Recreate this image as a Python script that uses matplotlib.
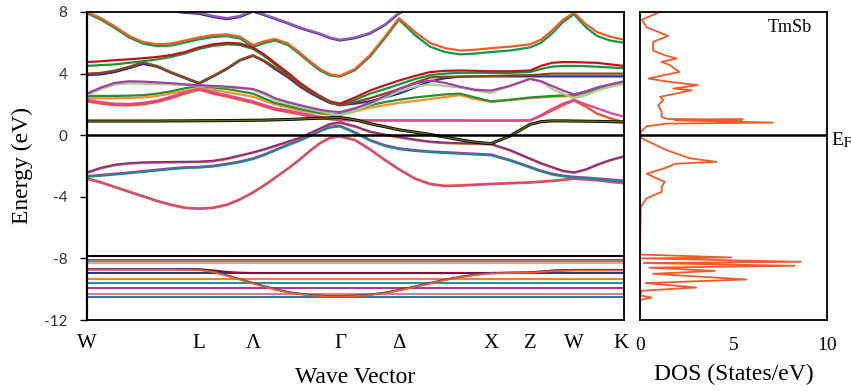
import numpy as np
import matplotlib
matplotlib.use('Agg')
import matplotlib.pyplot as plt

# k-path nodes (distance along W-L-Λ-Γ-Δ-X-Z-W-K)
k_path = [0, 14, 28, 42, 56, 70, 84, 98, 112, 126, 140, 153, 166, 177, 188, 201, 213, 223, 233, 243, 253,
          268, 283, 298, 312, 328, 343, 358, 373, 388, 404, 423, 443, 454, 465, 476, 487, 499, 510, 523, 537]
sym_pos = [0, 112, 166, 253, 312, 404, 443, 487, 534]
sym_labels = ['W', 'L', 'Λ', 'Γ', 'Δ', 'X', 'Z', 'W', 'K']

# conduction bands
top_purple = [8.6, 8.55, 8.5, 8.42, 8.35, 8.25, 8.1, 8.0, 7.95, 7.75, 7.6, 7.75, 8.1, 7.85, 7.6, 7.3, 7.0, 6.8,
              6.6, 6.35, 6.2, 6.35, 6.65, 7.2, 7.95, 8.5, 8.8, 9, 9, 9, 9, 9, 9, 9, 9, 9, 9, 9, 9, 9, 9]
top_blue = [8.55, 8.5, 8.45, 8.37, 8.3, 8.2, 8.05, 7.95, 7.88, 7.68, 7.53, 7.68, 8.03, 7.8, 7.55, 7.25, 6.95,
            6.75, 6.55, 6.3, 6.15, 6.3, 6.6, 7.15, 7.9, 8.45, 8.8, 9, 9, 9, 9, 9, 9, 9, 9, 9, 9, 9, 9, 9, 9]
b1_orange = [8.0, 7.6, 7.05, 6.45, 6.05, 5.9, 5.95, 6.15, 6.35, 6.5, 6.55, 6.4, 5.85, 6.1, 6.25, 5.95, 5.35,
             4.8, 4.3, 3.95, 3.85, 4.3, 5.2, 6.4, 7.6, 6.7, 6.0, 5.65, 5.5, 5.55, 5.65, 5.75, 5.9, 6.2, 6.8,
             7.5, 7.95, 7.2, 6.7, 6.4, 6.2]
b1_green = [7.92, 7.5, 6.95, 6.35, 5.95, 5.78, 5.82, 6.02, 6.22, 6.38, 6.43, 6.28, 5.72, 5.98, 6.15, 5.85,
            5.25, 4.7, 4.2, 3.88, 3.8, 4.22, 5.1, 6.3, 7.5, 6.5, 5.75, 5.4, 5.25, 5.3, 5.4, 5.5, 5.7, 6.0,
            6.6, 7.35, 7.85, 7.0, 6.45, 6.15, 6.0]
b2_red = [4.75, 4.8, 4.87, 4.93, 5.0, 5.08, 5.2, 5.4, 5.7, 5.9, 6.0, 5.95, 5.7, 5.25, 4.7, 4.05, 3.4, 2.95,
          2.55, 2.2, 2.05, 2.45, 2.9, 3.25, 3.55, 3.85, 4.1, 4.18, 4.2, 4.18, 4.15, 4.15, 4.2, 4.5, 4.7,
          4.75, 4.75, 4.72, 4.7, 4.6, 4.5]
b2_green = [4.5, 4.55, 4.6, 4.7, 4.8, 4.92, 5.08, 5.3, 5.6, 5.8, 5.9, 5.85, 5.6, 5.15, 4.6, 3.95, 3.3, 2.85,
            2.45, 2.1, 1.95, 2.3, 2.7, 3.0, 3.3, 3.65, 3.9, 4.0, 4.05, 4.05, 4.05, 4.05, 4.1, 4.3, 4.45,
            4.5, 4.5, 4.48, 4.45, 4.4, 4.35]
b3_brown = [4.0, 4.05, 4.2, 4.45, 4.72, 4.5, 4.1, 3.75, 3.4, 3.85, 4.35, 4.9, 5.2, 4.85, 4.4, 3.85, 3.25,
            2.85, 2.5, 2.15, 1.95, 2.15, 2.4, 2.7, 3.0, 3.4, 3.75, 3.8, 3.8, 3.82, 3.85, 3.88, 3.9, 3.95,
            4.0, 4.0, 4.0, 4.0, 4.0, 4.0, 4.0]
b3_blue = [3.9, 3.95, 4.1, 4.35, 4.62, 4.45, 4.05, 3.7, 3.35, 3.8, 4.3, 4.85, 5.15, 4.8, 4.3, 3.75, 3.15,
           2.75, 2.4, 2.1, 1.95, 2.05, 2.2, 2.45, 2.7, 3.1, 3.5, 3.7, 3.8, 3.82, 3.82, 3.82, 3.82, 3.82,
           3.82, 3.82, 3.82, 3.82, 3.82, 3.82, 3.82]
b4_purple = [2.7, 3.1, 3.4, 3.5, 3.48, 3.43, 3.38, 3.3, 3.25, 3.2, 3.15, 3.08, 3.0, 2.75, 2.4, 2.15, 1.95,
             1.8, 1.65, 1.55, 1.5, 1.75, 2.1, 2.55, 3.0, 3.35, 3.55, 3.4, 3.15, 2.95, 2.9, 3.2, 3.65, 3.5,
             3.2, 2.9, 2.65, 2.85, 3.1, 3.3, 3.5]
b5_lgreen = [2.6, 3.0, 3.3, 3.37, 3.35, 3.32, 3.3, 3.26, 3.22, 3.17, 3.12, 3.05, 2.95, 2.65, 2.3, 2.05, 1.85,
             1.7, 1.55, 1.4, 1.3, 1.6, 2.0, 2.45, 2.85, 3.15, 3.3, 3.2, 3.1, 2.9, 2.75, 3.2, 3.7, 3.5, 3.0,
             2.7, 2.4, 2.6, 2.9, 3.15, 3.35]
b6_dgreen = [2.55, 2.55, 2.55, 2.57, 2.6, 2.7, 2.85, 3.05, 3.2, 3.1, 3.0, 2.85, 2.7, 2.4, 2.1, 1.9, 1.7,
             1.57, 1.45, 1.38, 1.35, 1.65, 1.95, 2.15, 2.3, 2.45, 2.55, 2.65, 2.7, 2.45, 2.2, 2.3, 2.45, 2.5,
             2.55, 2.58, 2.6, 2.8, 3.0, 3.2, 3.4]
b7_orange = [2.4, 2.4, 2.4, 2.42, 2.45, 2.55, 2.7, 2.88, 3.05, 2.95, 2.8, 2.65, 2.5, 2.25, 2.0, 1.8, 1.6,
             1.5, 1.4, 1.33, 1.3, 1.55, 1.8, 1.95, 2.1, 2.22, 2.35, 2.48, 2.6, 2.35, 2.15, 2.28, 2.4, 2.45,
             2.5, 2.52, 2.55, 2.75, 2.95, 3.15, 3.35]
b8_pink = [2.3, 2.15, 2.05, 2.03, 2.1, 2.25, 2.5, 2.78, 3.0, 2.8, 2.6, 2.4, 2.2, 1.97, 1.75, 1.6, 1.45, 1.32,
           1.2, 1.08, 1.0, 0.98, 0.97, 0.97, 0.97, 0.97, 0.97, 0.97, 0.97, 0.96, 0.96, 0.96, 0.97, 1.3, 1.7,
           2.05, 2.3, 2.0, 1.75, 1.45, 1.2]
b8_red = [2.2, 2.05, 1.95, 1.93, 2.0, 2.15, 2.4, 2.7, 2.95, 2.7, 2.5, 2.3, 2.1, 1.87, 1.65, 1.5, 1.35, 1.22,
          1.12, 1.03, 0.97, 0.96, 0.95, 0.95, 0.95, 0.95, 0.95, 0.95, 0.95, 0.94, 0.94, 0.94, 0.95, 1.25,
          1.6, 1.95, 2.25, 1.85, 1.4, 1.1, 0.85]
b9_olive = [0.92, 0.92, 0.92, 0.92, 0.92, 0.92, 0.93, 0.93, 0.94, 0.94, 0.95, 0.96, 0.97, 0.98, 1.0, 1.02,
            1.05, 1.08, 1.1, 1.13, 1.15, 1.0, 0.75, 0.55, 0.35, 0.2, 0.05, -0.12, -0.3, -0.45, -0.55,
            -0.05, 0.7, 0.88, 0.93, 0.93, 0.92, 0.91, 0.9, 0.88, 0.85]

# valence bands
v1_purple = [-2.45, -2.15, -1.95, -1.85, -1.8, -1.78, -1.77, -1.76, -1.75, -1.7, -1.55, -1.35, -1.15, -0.95,
             -0.72, -0.45, -0.2, 0.1, 0.4, 0.7, 0.8, 0.55, 0.2, 0.0, -0.15, -0.32, -0.45, -0.52, -0.55, -0.57,
             -0.6, -1.0, -1.55, -1.85, -2.1, -2.35, -2.45, -2.25, -1.95, -1.65, -1.4]
v2_teal = [-2.65, -2.58, -2.5, -2.42, -2.33, -2.24, -2.15, -2.08, -2.05, -1.98, -1.85, -1.7, -1.5, -1.25,
           -0.95, -0.6, -0.3, 0.0, 0.3, 0.55, 0.62, 0.2, -0.3, -0.65, -0.85, -0.97, -1.05, -1.1, -1.15, -1.2,
           -1.25, -1.6, -2.05, -2.3, -2.5, -2.62, -2.7, -2.75, -2.8, -2.87, -2.95]
v3_red = [-2.8, -3.05, -3.35, -3.65, -3.95, -4.25, -4.5, -4.7, -4.75, -4.7, -4.5, -4.15, -3.7, -3.25,
          -2.75, -2.15, -1.55, -1.0, -0.5, -0.15, -0.05, -0.3, -0.9, -1.6, -2.2, -2.8, -3.15, -3.28, -3.25,
          -3.2, -3.15, -3.1, -3.05, -3.0, -2.95, -2.88, -2.8, -2.85, -2.9, -3.0, -3.1]

# semicore bands
s_orange = [-8.7, -8.7, -8.7, -8.7, -8.7, -8.7, -8.7, -8.71, -8.72, -8.85, -9.1, -9.35, -9.6, -9.8, -10.0,
            -10.18, -10.3, -10.37, -10.42, -10.45, -10.45, -10.42, -10.35, -10.22, -10.05, -9.82, -9.6,
            -9.38, -9.2, -9.05, -8.95, -8.92, -8.9, -8.85, -8.8, -8.77, -8.75, -8.75, -8.75, -8.75, -8.75]
s_crimson = [-8.7, -8.7, -8.7, -8.7, -8.7, -8.7, -8.7, -8.7, -8.7, -8.78, -8.88, -8.93, -8.95, -8.95, -8.95,
             -8.95, -8.95, -8.95, -8.95, -8.95, -8.95, -8.95, -8.95, -8.95, -8.95, -8.95, -8.95, -8.95,
             -8.95, -8.95, -8.95, -8.95, -8.95, -8.88, -8.8, -8.76, -8.75, -8.75, -8.75, -8.75, -8.75]
flat_levels = [-7.85, -8.12, -8.2, -8.28, -8.92, -9.36, -9.57, -9.92, -10.28, -10.5]
flat_colors = ['black', '#1f7a8c', '#8c8c5a', '#e8a090', '#2b3990', '#e8813a', '#1a9aa0', '#9b3f9b', '#d98080', '#2a7ab0']

# density of states
dos_energy = [8.0, 7.5, 7.0, 6.5, 6.45, 6.06, 5.5, 5.19, 4.98, 4.76, 4.55, 4.11, 3.68, 3.46, 3.25, 3.03,
              2.92, 2.49, 2.27, 1.95, 1.51, 1.19, 1.05, 1.02, 0.97, 0.82, 0.75, 0.58, 0.21, 0.0, -0.2,
              -0.97, -1.5, -1.73, -1.85, -1.95, -2.1, -2.5, -2.7, -3.03, -3.35, -3.68, -4.1, -4.65,
              -7.75, -7.94, -8.0, -8.22, -8.3, -8.48, -8.6, -8.81, -9.0, -9.37, -9.6, -9.89, -10.1,
              -10.4, -10.54, -10.7, -12.0]
dos_value = [1.07, 0.1, 0.36, 1.42, 1.5, 0.7, 0.7, 1.33, 1.96, 1.15, 1.6, 2.1, 0.45, 1.6, 3.1, 1.78,
             2.76, 1.07, 1.25, 0.98, 1.16, 1.16, 1.5, 5.5, 1.87, 7.1, 1.4, 0.36, 0.04, 0.0, 0.09,
             1.42, 2.67, 4.1, 1.9, 1.7, 1.42, 0.36, 0.7, 1.33, 1.16, 1.16, 0.36, 0.04,
             0.0, 4.9, 0.1, 8.6, 0.2, 8.25, 0.5, 4.0, 0.7, 5.7, 0.3, 3.0, 0.1,
             0.0, 0.62, 0.0, 0.0]


def main():
    plt.rcParams['font.family'] = ['Liberation Serif', 'DejaVu Serif']
    plt.rcParams['mathtext.fontset'] = 'stix'

    fig = plt.figure(figsize=(8.51, 3.91), dpi=100)
    ax1 = fig.add_axes([87 / 851, 71 / 391, 537 / 851, 308 / 391])
    ax2 = fig.add_axes([640 / 851, 71 / 391, 187 / 851, 308 / 391])

    # semicore flat bands
    for lev, col in zip(flat_levels, flat_colors):
        ax1.plot([k_path[0], k_path[-1]], [lev, lev], color=col, lw=1.5)
    ax1.plot(k_path, s_crimson, color='#8b0a3b', lw=1.5)
    ax1.plot(k_path, s_orange, color='#2b3990', lw=1.5)
    ax1.plot(k_path, [e - 0.03 for e in s_orange], color='#f05a24', lw=1.3)

    bands = [
        (top_blue, '#2e3192'), (top_purple, '#9b59b6'),
        (b1_green, '#0c9a4a'), (b1_orange, '#f25c22'),
        (b2_green, '#1f8f3a'), (b2_red, '#c0141c'),
        (b3_blue, '#2e3192'), (b3_brown, '#8b4a14'),
        (b7_orange, '#f7931e'), (b6_dgreen, '#2e8b3a'),
        (b5_lgreen, '#a6cf8a'), (b4_purple, '#a040a8'),
        (b8_red, '#f04e23'), (b8_pink, '#e0469b'),
    ]
    for vals, col in bands:
        ax1.plot(k_path, vals, color=col, lw=1.6)

    ax1.plot(k_path, v3_red, color='#f04e23', lw=1.6)
    ax1.plot(k_path, [e - 0.05 for e in v3_red], color='#c8508a', lw=1.3)
    ax1.plot(k_path, v2_teal, color='#a040a8', lw=1.6)
    ax1.plot(k_path, [e - 0.06 for e in v2_teal], color='#1a8a8a', lw=1.4)
    ax1.plot(k_path, v1_purple, color='#c07830', lw=1.6)
    ax1.plot(k_path, [e + 0.04 for e in v1_purple], color='#8e2a8e', lw=1.4)
    ax1.plot(k_path, b9_olive, color='black', lw=2.2)
    ax1.plot(k_path, b9_olive, color='#6b6b1e', lw=1.0)

    ax1.axhline(0, color='black', lw=1.8)
    ax1.set_xlim(0, 537)
    ax1.set_ylim(-12, 8)
    ax1.set_yticks([8, 4, 0, -4, -8, -12])
    ax1.set_yticklabels(['8', '4', '0', '-4', '-8', '-12'], family='Lato', fontsize=11, color='#333333')
    ax1.tick_params(axis='y', direction='out', length=5, width=1, pad=9)
    ax1.set_xticks([])
    for s in ax1.spines.values():
        s.set_linewidth(1.3)
    ax1.spines['left'].set_linewidth(1.6)
    for pos, lab in zip(sym_pos, sym_labels):
        ax1.text(pos, -12.9, lab, ha='center', va='top', fontsize=15)
    ax1.set_xlabel('Wave Vector', fontsize=17, labelpad=34)
    ax1.set_ylabel('Energy (eV)', fontsize=17)
    ax1.yaxis.set_label_coords(-0.1, 0.5)

    # DOS panel
    ax2.plot(dos_value, dos_energy, color='#f15a29', lw=1.3)
    ax2.axhline(0, color='black', lw=1.8)
    ax2.set_xlim(0, 10)
    ax2.set_ylim(-12, 8)
    ax2.set_yticks([])
    ax2.set_xticks([0, 5, 10])
    ax2.tick_params(axis='x', length=0, labelsize=14, pad=12)
    for s in ax2.spines.values():
        s.set_linewidth(1.3)
    ax2.set_xlabel('DOS (States/eV)', fontsize=17, labelpad=7)
    ax2.text(8.0, 7.0, 'TmSb', ha='center', va='center', fontsize=13)
    ax2.text(10.2, -0.3, r'E$_{\rm F}$', ha='left', va='center', fontsize=14, clip_on=False)

    fig.savefig('out.png', dpi=100)


if __name__ == '__main__':
    main()
